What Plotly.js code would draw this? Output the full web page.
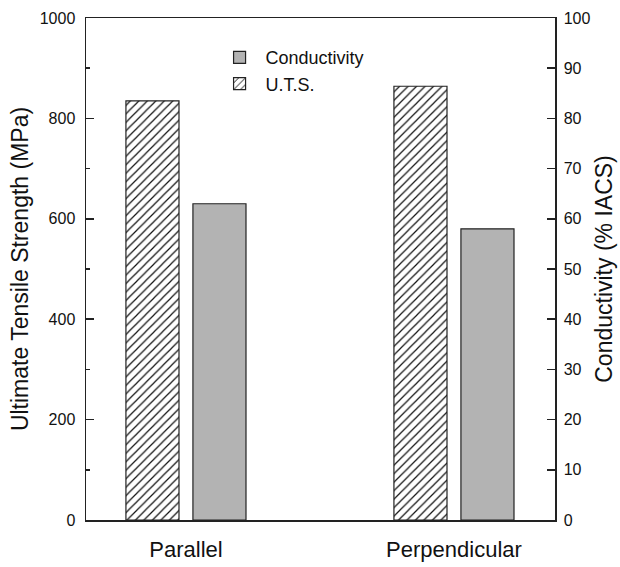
<!DOCTYPE html>
<html>
<head>
<meta charset="utf-8">
<script src="https://cdn.plot.ly/plotly-3.0.1.min.js"></script>
<style>html,body{margin:0;padding:0;background:#fff;}#chart{width:620px;height:567px;}</style>
</head>
<body>
<div id="chart"></div>
<script>
const categories = ["Parallel", "Perpendicular"];
const utsValues = [835, 864];           // MPa
const conductivityValues = [63, 58];    // % IACS
const leftTickVals = [0, 200, 400, 600, 800, 1000];
const rightTickVals = [0, 10, 20, 30, 40, 50, 60, 70, 80, 90, 100];

const FONT = "Liberation Sans, Arial, Helvetica, sans-serif";

const traces = [
  {
    type: "bar",
    name: "Conductivity",
    x: categories,
    y: conductivityValues,
    yaxis: "y2",
    width: 0.198,
    offset: 0.026,
    marker: {color: "#b3b3b3", line: {color: "#222", width: 1.2}},
    hoverinfo: "x+y"
  },
  {
    type: "bar",
    name: "U.T.S.",
    x: categories,
    y: utsValues,
    yaxis: "y",
    width: 0.198,
    offset: -0.224,
    marker: {
      color: "#ffffff",
      line: {color: "#222", width: 1.2},
      pattern: {shape: "/", fgcolor: "#111", bgcolor: "#ffffff", size: 6, solidity: 0.2, fillmode: "replace"}
    },
    hoverinfo: "x+y"
  }
];

const layout = {
  width: 620,
  height: 567,
  margin: {l: 86, r: 65, t: 18, b: 47, pad: 0},
  paper_bgcolor: "#ffffff",
  plot_bgcolor: "#ffffff",
  font: {family: FONT, color: "#111", size: 16},
  barmode: "overlay",
  showlegend: true,
  legend: {
    x: 0.272, y: 0.958, xanchor: "left", yanchor: "top",
    bgcolor: "rgba(0,0,0,0)", borderwidth: 0,
    font: {family: FONT, size: 18, color: "#111"},
    itemwidth: 42, tracegroupgap: 0, traceorder: "normal"
  },
  xaxis: {
    type: "category",
    range: [-0.373, 1.377],
    showline: true, linecolor: "#222", linewidth: 1.5, mirror: true,
    ticks: "", showgrid: false, zeroline: false,
    tickfont: {family: FONT, size: 22, color: "#111"},
    ticklabelstandoff: 9,
    fixedrange: true
  },
  yaxis: {
    range: [0, 1000],
    tickvals: leftTickVals,
    ticks: "inside", ticklen: 8, tickwidth: 1.5, tickcolor: "#222",
    minor: {dtick: 100, tick0: 0, ticks: "inside", ticklen: 4, tickwidth: 1.5, tickcolor: "#222", showgrid: false},
    showline: true, linecolor: "#222", linewidth: 1.5,
    showgrid: false, zeroline: false,
    tickfont: {family: FONT, size: 16, color: "#111"},
    ticklabelstandoff: 6,
    title: {text: "Ultimate Tensile Strength (MPa)", font: {family: FONT, size: 23, color: "#111"}, standoff: 4},
    fixedrange: true
  },
  yaxis2: {
    overlaying: "y",
    side: "right",
    range: [0, 100],
    tickvals: rightTickVals,
    ticks: "inside", ticklen: 8, tickwidth: 1.5, tickcolor: "#222",
    showline: true, linecolor: "#222", linewidth: 1.5,
    showgrid: false, zeroline: false,
    tickfont: {family: FONT, size: 16, color: "#111"},
    ticklabelstandoff: 4,
    title: {text: "Conductivity (% IACS)", font: {family: FONT, size: 23, color: "#111"}, standoff: 6},
    fixedrange: true
  }
};

Plotly.newPlot("chart", traces, layout, {displayModeBar: false, staticPlot: true});
</script>
</body>
</html>
